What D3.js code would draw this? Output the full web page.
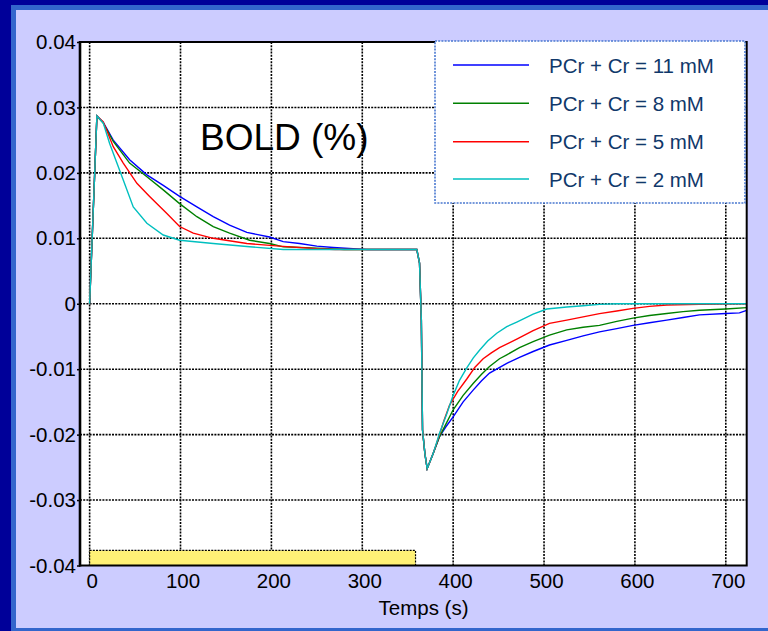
<!DOCTYPE html>
<html><head><meta charset="utf-8">
<script src="https://cdn.jsdelivr.net/npm/d3@7/dist/d3.min.js"></script>
<style>html,body{margin:0;padding:0;background:#000099;}svg{display:block;font-family:"Liberation Sans",Arial,sans-serif;}</style>
</head><body>
<script>
// ---- data ----
const xTicks = [0, 100, 200, 300, 400, 500, 600, 700];
const yTicks = [-0.04, -0.03, -0.02, -0.01, 0, 0.01, 0.02, 0.03, 0.04];
const yTickLabels = ["-0.04", "-0.03", "-0.02", "-0.01", "0", "0.01", "0.02", "0.03", "0.04"];
const seriesNames = ["PCr + Cr = 11 mM", "PCr + Cr = 8 mM", "PCr + Cr = 5 mM", "PCr + Cr = 2 mM"];
const seriesColors = ["#0000ff", "#008000", "#ff0000", "#00bfbf"];
const stimulus = [0, 358.6];

const blue11 = [[0,0],[8,0.0287],[15,0.0277],[26,0.0250],[44,0.0220],[63,0.0197],[81,0.0181],[99,0.0164],[118,0.0148],[136,0.0133],[154,0.0120],[173,0.0109],[198,0.0102],[213,0.0095],[231,0.0092],[250,0.0088],[268,0.0086],[290,0.0084],[305,0.0083],[360,0.0083],[363,0.0062],[365,-0.0025],[366.3,-0.0193],[368.9,-0.0229],[371.4,-0.0252],[378,-0.0229],[385,-0.0203],[392,-0.0188],[400,-0.0173],[411,-0.0150],[422,-0.0132],[431,-0.0118],[440,-0.0106],[459,-0.0091],[473,-0.0082],[488,-0.0073],[506,-0.0063],[525,-0.0056],[543,-0.0049],[561,-0.0043],[580,-0.0038],[598,-0.0033],[616,-0.0029],[635,-0.0025],[653,-0.0021],[671,-0.0017],[700,-0.0015],[715,-0.0014],[723,-0.0010]];
const green8 = [[0,0],[8,0.0287],[15,0.0276],[26,0.0248],[44,0.0215],[63,0.0194],[81,0.0174],[99,0.0153],[118,0.0133],[136,0.0118],[154,0.0108],[176,0.0097],[198,0.0092],[213,0.0087],[250,0.0085],[280,0.0083],[360,0.0083],[363,0.0062],[365,-0.0025],[366.3,-0.0193],[368.9,-0.0229],[371.4,-0.0252],[378,-0.0229],[385,-0.0203],[392,-0.0184],[400,-0.0162],[411,-0.0140],[422,-0.0122],[431,-0.0108],[440,-0.0096],[451,-0.0084],[459,-0.0078],[473,-0.0067],[488,-0.0058],[506,-0.0048],[525,-0.0040],[543,-0.0036],[561,-0.0033],[580,-0.0027],[598,-0.0022],[616,-0.0018],[635,-0.0015],[653,-0.0012],[671,-0.0010],[700,-0.0008],[723,-0.0006]];
const red5 = [[0,0],[8,0.0287],[15,0.0278],[26,0.0240],[37,0.0215],[52,0.0184],[66,0.0164],[85,0.0138],[99,0.0118],[114,0.0108],[136,0.0100],[173,0.0092],[209,0.0088],[250,0.0084],[270,0.0083],[360,0.0083],[363,0.0062],[365,-0.0025],[366.3,-0.0193],[368.9,-0.0229],[371.4,-0.0252],[378,-0.0229],[385,-0.0200],[390,-0.0178],[396,-0.0155],[405,-0.0134],[415,-0.0115],[424,-0.0097],[433,-0.0084],[442,-0.0075],[451,-0.0067],[470,-0.0054],[488,-0.0041],[506,-0.0030],[525,-0.0025],[543,-0.0020],[561,-0.0015],[580,-0.0011],[598,-0.0007],[616,-0.0004],[635,-0.0002],[671,-0.0001],[723,0]];
const cyan2 = [[0,0],[8,0.0287],[15,0.0276],[22,0.0245],[30,0.0215],[37,0.0189],[48,0.0148],[63,0.0123],[81,0.0105],[99,0.0097],[136,0.0092],[176,0.0087],[213,0.0083],[360,0.0083],[363,0.0062],[365,-0.0025],[366.3,-0.0193],[368.9,-0.0229],[371.4,-0.0252],[378,-0.0229],[385,-0.0198],[393,-0.0168],[400,-0.0140],[407,-0.0117],[415,-0.0098],[422,-0.0083],[429,-0.0071],[438,-0.0057],[448,-0.0045],[459,-0.0035],[470,-0.0028],[488,-0.0016],[503,-0.0008],[525,-0.0005],[543,-0.0003],[561,-0.0001],[580,0],[723,0]];
const allSeries = [blue11, green8, red5, cyan2];

// ---- layout ----
const W = 768, H = 631;
const svg = d3.select("body").append("svg").attr("width", W).attr("height", H);
svg.append("rect").attr("x",0).attr("y",0).attr("width",W).attr("height",H).attr("fill","#000099");
svg.append("rect").attr("x",11).attr("y",5).attr("width",W-11).attr("height",H-5).attr("fill","#3366cc");
svg.append("rect").attr("x",16).attr("y",10).attr("width",W-16).attr("height",618).attr("fill","#ccccff");

const L = 80, R = 746.7, T = 42, B = 565.5;
const x = d3.scaleLinear().domain([-10.6, 723]).range([L, R]);
const y = d3.scaleLinear().domain([-0.04, 0.04]).range([B, T]);

svg.append("rect").attr("x",L).attr("y",T).attr("width",R-L).attr("height",B-T).attr("fill","#ffffff");

svg.append("defs").append("clipPath").attr("id","clip")
  .append("rect").attr("x",L).attr("y",T).attr("width",R-L).attr("height",B-T);

// grid
const grid = svg.append("g");
grid.selectAll("line.gx").data(xTicks).join("line")
  .attr("x1", d=>x(d)).attr("x2", d=>x(d)).attr("y1", T).attr("y2", B)
  .attr("stroke","#000").attr("stroke-width",1.6).attr("stroke-dasharray","2,1.2");
grid.selectAll("line.gy").data(yTicks.slice(1,-1)).join("line")
  .attr("x1", L).attr("x2", R).attr("y1", d=>y(d)).attr("y2", d=>y(d))
  .attr("stroke","#000").attr("stroke-width",1.6).attr("stroke-dasharray","2,1.2");

// stimulus bar
svg.append("rect")
  .attr("x", x(stimulus[0])).attr("y", y(-0.0377))
  .attr("width", x(stimulus[1]) - x(stimulus[0])).attr("height", B - y(-0.0377))
  .attr("fill","#fff176").attr("stroke","#000").attr("stroke-width",1.2).attr("stroke-dasharray","2,1.2");

// curves
const line = d3.line().x(d=>x(d[0])).y(d=>y(d[1]));
svg.append("g").attr("clip-path","url(#clip)")
  .selectAll("path").data(allSeries).join("path")
  .attr("d", line).attr("fill","none")
  .attr("stroke",(d,i)=>seriesColors[i]).attr("stroke-width",1.4);

// frame
svg.append("rect").attr("x",L).attr("y",T).attr("width",R-L).attr("height",B-T)
  .attr("fill","none").attr("stroke","#000").attr("stroke-width",2);
svg.append("line").attr("x1",L).attr("x2",L).attr("y1",T-1).attr("y2",B+1).attr("stroke","#000").attr("stroke-width",2.6);

// axes
const yAxis = d3.axisLeft(y).tickValues(yTicks).tickSize(3).tickPadding(1)
  .tickFormat((d,i)=>yTickLabels[i]);
const gy = svg.append("g").attr("transform",`translate(${L},0)`).call(yAxis);
gy.select(".domain").remove();
gy.selectAll("text").attr("font-size","20.5px").attr("fill","#000").attr("font-family","Liberation Sans, Arial, sans-serif");
gy.selectAll("line").attr("stroke","#000").attr("stroke-width",1.5);

const xAxis = d3.axisBottom(x).tickValues(xTicks).tickSize(0).tickPadding(8).tickFormat(d3.format("d"));
const gx = svg.append("g").attr("transform",`translate(2,${B})`).call(xAxis);
gx.select(".domain").remove();
gx.selectAll("text").attr("font-size","20.5px").attr("fill","#000").attr("font-family","Liberation Sans, Arial, sans-serif");

svg.append("text").attr("x",423.5).attr("y",614.5).attr("text-anchor","middle")
  .attr("font-size","20.5px").attr("fill","#000").text("Temps (s)");

svg.append("text").attr("x",200).attr("y",150).attr("font-size","37px").attr("fill","#000").text("BOLD (%)");

// legend
const lg = svg.append("g");
lg.append("rect").attr("x",435).attr("y",41).attr("width",310).attr("height",162)
  .attr("fill","#ffffff").attr("stroke","#4a78d0").attr("stroke-width",1.6).attr("stroke-dasharray","2,1.2");
const rowsY = [65, 103.3, 141.7, 179];
seriesNames.forEach((n,i)=>{
  lg.append("line").attr("x1",453).attr("x2",529).attr("y1",rowsY[i]).attr("y2",rowsY[i])
    .attr("stroke",seriesColors[i]).attr("stroke-width",1.5);
  lg.append("text").attr("x",549).attr("y",rowsY[i]+7.5).attr("font-size","20.5px")
    .attr("fill","#10386a").text(n);
});
</script>
</body></html>
